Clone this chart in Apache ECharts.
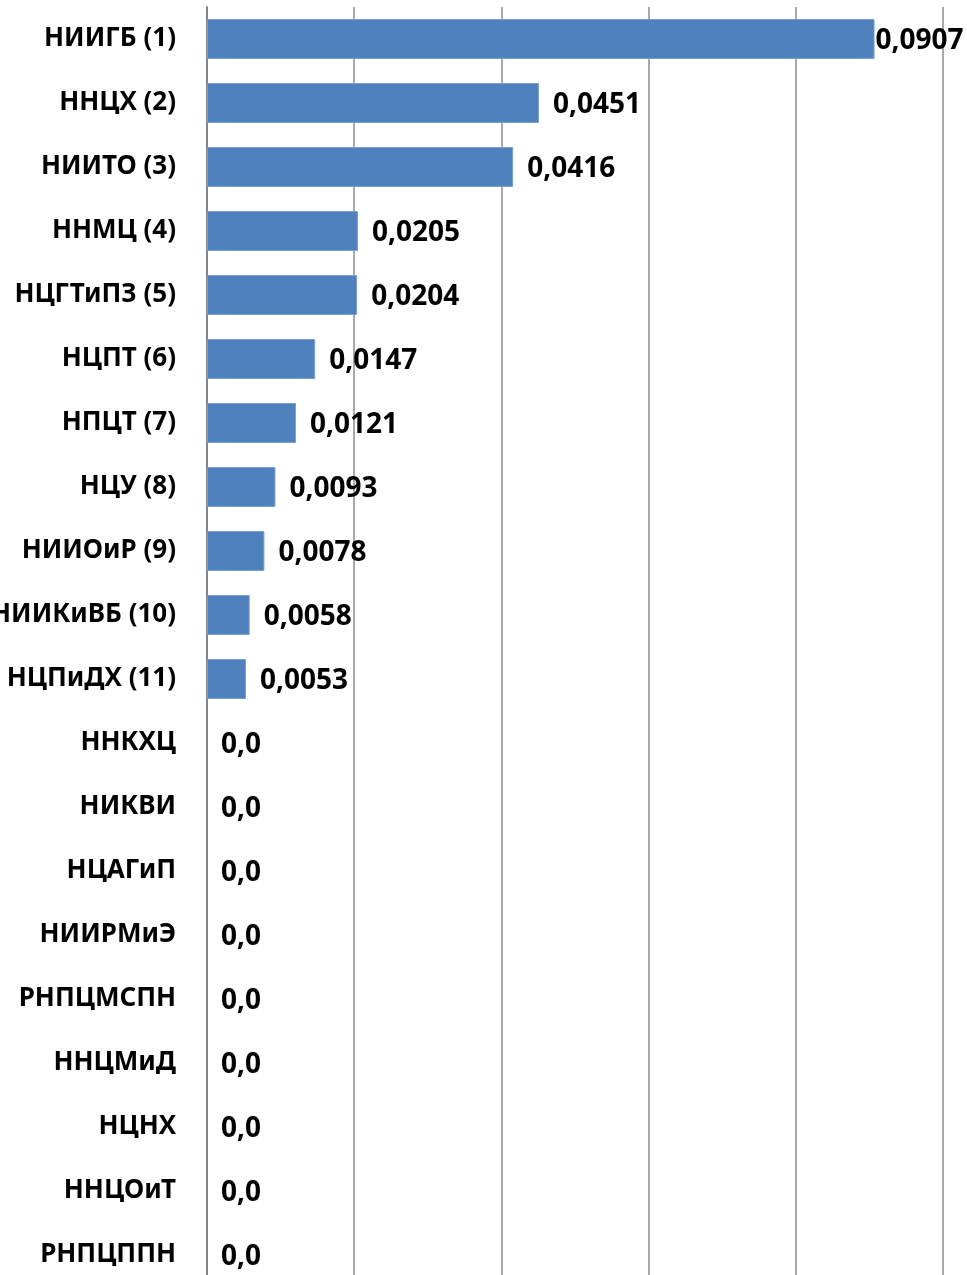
<!DOCTYPE html>
<html>
<head>
<meta charset="utf-8">
<script src="https://cdn.jsdelivr.net/npm/echarts@6/dist/echarts.min.js"></script>
<style>
  html, body { margin: 0; padding: 0; background: #fff; }
  #chart { width: 967px; height: 1275px; }
</style>
</head>
<body>
<div id="chart"></div>
<script>
// categories, top to bottom
var categories = [
  'НИИГБ (1)', 'ННЦХ (2)', 'НИИТО (3)', 'ННМЦ (4)', 'НЦГТиПЗ (5)',
  'НЦПТ (6)', 'НПЦТ (7)', 'НЦУ (8)', 'НИИОиР (9)', 'НИИКиВБ (10)',
  'НЦПиДХ (11)', 'ННКХЦ', 'НИКВИ', 'НЦАГиП', 'НИИРМиЭ',
  'РНПЦМСПН', 'ННЦМиД', 'НЦНХ', 'ННЦОиТ', 'РНПЦППН'
];
var values = [
  0.0907, 0.0451, 0.0416, 0.0205, 0.0204,
  0.0147, 0.0121, 0.0093, 0.0078, 0.0058,
  0.0053, 0, 0, 0, 0,
  0, 0, 0, 0, 0
];

var FONT = 'Noto Sans';

function fmt(v) {
  if (v === 0) return '0,0';
  return v.toFixed(4).replace('.', ',');
}

var seriesData = values.map(function (v, i) {
  var item = { value: v };
  // the longest bar's label sits right against the bar end
  if (i === 0) item.label = { distance: 1 };
  if (v === 0) item.itemStyle = { borderWidth: 0 };
  return item;
});

var chart = echarts.init(document.getElementById('chart'));
chart.setOption({
  animation: false,
  grid: { left: 207, right: 24, top: 7, height: 1280, outerBoundsMode: 'none' },
  xAxis: {
    type: 'value',
    min: 0,
    max: 0.1,
    interval: 0.02,
    axisLabel: { show: false },
    axisTick: { show: false },
    axisLine: { show: false },
    splitLine: { lineStyle: { color: '#8c8c8c', width: 1.5 } }
  },
  yAxis: {
    type: 'category',
    inverse: true,
    data: categories,
    axisTick: { show: false },
    axisLine: { lineStyle: { color: '#868686', width: 2 } },
    axisLabel: {
      margin: 31,
      padding: [4, 0, 0, 0],
      color: '#000',
      fontFamily: FONT,
      fontWeight: 'bold',
      fontSize: 26
    }
  },
  series: [{
    type: 'bar',
    data: seriesData,
    barWidth: 40,
    itemStyle: { color: '#4f81bd', borderColor: '#7aa0d0', borderWidth: 1 },
    label: {
      show: true,
      position: 'right',
      distance: 14,
      offset: [0, 2],
      color: '#000',
      fontFamily: FONT,
      fontWeight: 'bold',
      fontSize: 28,
      formatter: function (p) { return fmt(p.value); }
    }
  }]
});
</script>
</body>
</html>
